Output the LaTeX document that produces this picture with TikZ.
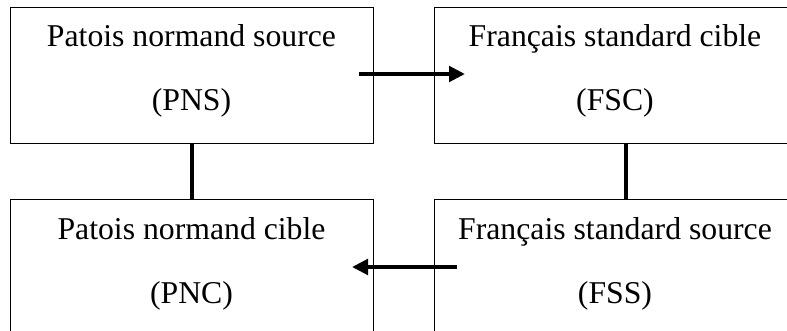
\documentclass[tikz,border=0pt]{standalone}
\usepackage{fontspec}
\setmainfont{Liberation Serif}
\usetikzlibrary{arrows.meta}
\begin{document}
\begin{tikzpicture}[x=0.75pt,y=-0.75pt,
 box/.style={draw, line width=0.8pt, rectangle, inner sep=0pt, anchor=north west},
 lbl/.style={font=\fontsize{23.8}{28}\selectfont, anchor=base, inner sep=0pt},
 link/.style={line width=3pt},
 arr/.style={line width=3pt, -{Triangle[length=12pt,width=11.5pt]}}]
\useasboundingbox (0,0) rectangle (787,331);
\clip (0,0) rectangle (787,331);
% boxes
\node[box, minimum width=272.25pt, minimum height=102pt] (pns) at (10,7) {};
\node[box, minimum width=271.5pt, minimum height=102pt] (fsc) at (434,7) {};
\node[box, minimum width=272.25pt, minimum height=105pt] (pnc) at (10,199) {};
\node[box, minimum width=271.5pt, minimum height=105pt] (fss) at (434,199) {};
% texts
\node[lbl] (t1) at (191.5,47) {Patois normand source};
\node[lbl] (t2) at (191.5,111) {(PNS)};
\node[lbl] (t3) at (615,47) {Français standard cible};
\node[lbl] (t4) at (615,111) {(FSC)};
\node[lbl] (t5) at (191.5,239) {Patois normand cible};
\node[lbl] (t6) at (191.5,303) {(PNC)};
\node[lbl] (t7) at (615,239) {Français standard source};
\node[lbl] (t8) at (615,303) {(FSS)};
% connectors
\coordinate (a1) at (359,74);
\coordinate (a2) at (465,74);
\coordinate (b1) at (457,267);
\coordinate (b2) at (352,267);
\coordinate (r) at (626,0);
\draw[arr] (a1) -- (a2);
\draw[arr] (b1) -- (b2);
\draw[link] (pns.south) -- (pnc.north);
\draw[link] (fsc.south -| r) -- (fss.north -| r);
\end{tikzpicture}
\end{document}
